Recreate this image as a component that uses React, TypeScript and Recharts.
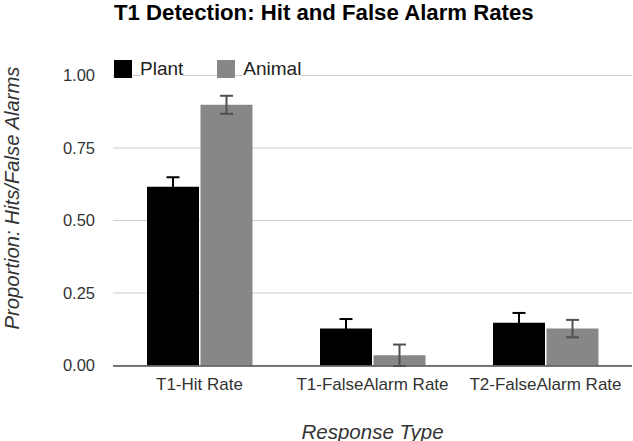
import { BarChart, Bar, XAxis, YAxis, CartesianGrid, ErrorBar, Label } from "recharts";

const categories = ["T1-Hit Rate", "T1-FalseAlarm Rate", "T2-FalseAlarm Rate"];
const plantValues = [0.616, 0.127, 0.147];
const plantErrors = [0.033, 0.033, 0.034];
const animalValues = [0.899, 0.035, 0.127];
const animalErrors = [0.031, 0.037, 0.03];
const yTicks = [0, 0.25, 0.5, 0.75, 1];

const series = [
  { key: "plant", errKey: "plantErr", name: "Plant", color: "#000000", errColor: "#000000" },
  { key: "animal", errKey: "animalErr", name: "Animal", color: "#878787", errColor: "#505050" },
];

const data = categories.map((name, i) => ({
  name,
  plant: plantValues[i],
  plantErr: plantErrors[i],
  animal: animalValues[i],
  animalErr: animalErrors[i],
}));

const FONT = "'Liberation Sans', Arial, sans-serif";

function YTitle() {
  return (
    <text
      x={19}
      y={198}
      transform="rotate(-90, 19, 198)"
      textAnchor="middle"
      fill="#333"
      fontSize={20.3}
      fontStyle="italic"
      fontFamily={FONT}
    >
      Proportion: Hits/False Alarms
    </text>
  );
}

export default function App() {
  return (
    <div style={{ position: "absolute", left: 0, top: 0, width: 633, height: 441, background: "#fff", fontFamily: FONT }}>
      <div
        style={{
          position: "absolute",
          left: 114,
          top: 1.5,
          fontSize: 22.2,
          lineHeight: "22.2px",
          fontWeight: "bold",
          color: "#000",
          whiteSpace: "nowrap",
        }}
      >
        T1 Detection: Hit and False Alarm Rates
      </div>
      <BarChart
        width={633}
        height={441}
        data={data}
        margin={{ top: 75.5, right: 1, left: 0, bottom: 0 }}
        barSize={52}
        barGap={1.5}
      >
        <CartesianGrid vertical={false} stroke="#cccccc" />
        <XAxis
          dataKey="name"
          height={75}
          tickLine={false}
          tickSize={0}
          tickMargin={12}
          axisLine={{ stroke: "#555", strokeWidth: 1.5 }}
          tick={{ fill: "#333", fontSize: 17, fontFamily: FONT }}
        >
          <Label
            value="Response Type"
            position="insideBottom"
            offset={2.5}
            style={{ fill: "#333", fontSize: 20.5, fontStyle: "italic", fontFamily: FONT }}
          />
        </XAxis>
        <YAxis
          width={113}
          domain={[0, 1]}
          ticks={yTicks}
          tickFormatter={(v: number) => v.toFixed(2)}
          axisLine={false}
          tickLine={false}
          tickSize={0}
          tickMargin={18}
          tick={{ fill: "#333", fontSize: 16.5, fontFamily: FONT }}
        >
          <Label content={() => <YTitle />} />
        </YAxis>
        {series.map((s) => (
          <Bar key={s.key} dataKey={s.key} name={s.name} fill={s.color} isAnimationActive={false}>
            <ErrorBar dataKey={s.errKey} width={6.5} stroke={s.errColor} strokeWidth={2} />
          </Bar>
        ))}
      </BarChart>
      <div
        style={{
          position: "absolute",
          left: 114,
          top: 60,
          height: 17.7,
          display: "flex",
          alignItems: "center",
          gap: 34,
        }}
      >
        {series.map((s) => (
          <div key={s.key} style={{ display: "flex", alignItems: "center" }}>
            <span style={{ width: 18, height: 17.7, background: s.color, display: "inline-block" }} />
            <span
              style={{
                marginLeft: 8,
                fontSize: 19,
                lineHeight: "19px",
                color: "#222",
                background: "#fff",
                whiteSpace: "nowrap",
              }}
            >
              {s.name}
            </span>
          </div>
        ))}
      </div>
    </div>
  );
}
